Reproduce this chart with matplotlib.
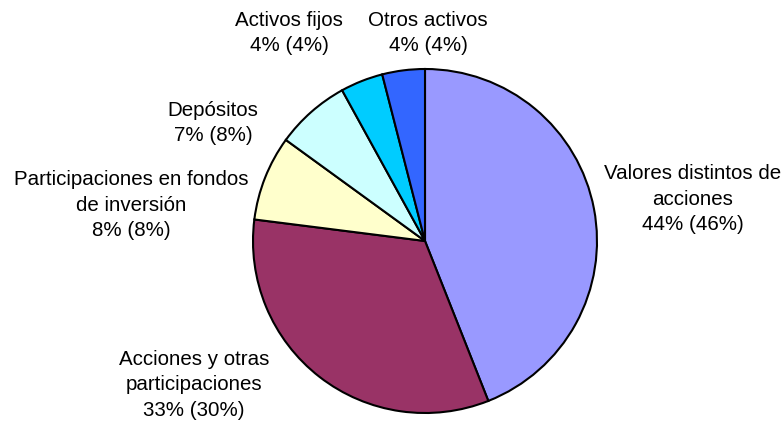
import matplotlib
matplotlib.use("Agg")
import matplotlib.pyplot as plt

# data
labels = ["Valores distintos de\nacciones", "Acciones y otras\nparticipaciones",
          "Participaciones en fondos\nde inversión", "Depósitos",
          "Activos fijos", "Otros activos"]
shares = [44, 33, 8, 7, 4, 4]
prev_shares = [46, 30, 8, 8, 4, 4]
colors = ["#9999FF", "#993366", "#FFFFCC", "#CCFFFF", "#00CCFF", "#3366FF"]

# label anchor positions (pixels)
label_pos = [(693, 199), (194, 385), (131, 205), (213, 123), (289, 33), (428, 33)]

plt.rcParams["font.family"] = ["Liberation Sans", "DejaVu Sans"]

fig = plt.figure(figsize=(7.84, 4.25), dpi=100)
ax = fig.add_axes([0, 0, 1, 1])

# y axis runs downward, so start at -90 and go counterclockwise in data
# coordinates to get a clockwise pie from 12 o'clock on screen
ax.pie(shares, colors=colors, startangle=-90, counterclock=True,
       center=(425, 241), radius=172, frame=True,
       wedgeprops=dict(edgecolor="black", linewidth=1.5))
ax.set_xlim(0, 784)
ax.set_ylim(425, 0)
ax.set_aspect("equal")
ax.axis("off")

for lab, s, p, (x, y) in zip(labels, shares, prev_shares, label_pos):
    ax.text(x, y, f"{lab}\n{s}% ({p}%)", ha="center", va="center",
            fontsize=14.8, linespacing=1.42)

fig.savefig("out.png", dpi=100)
